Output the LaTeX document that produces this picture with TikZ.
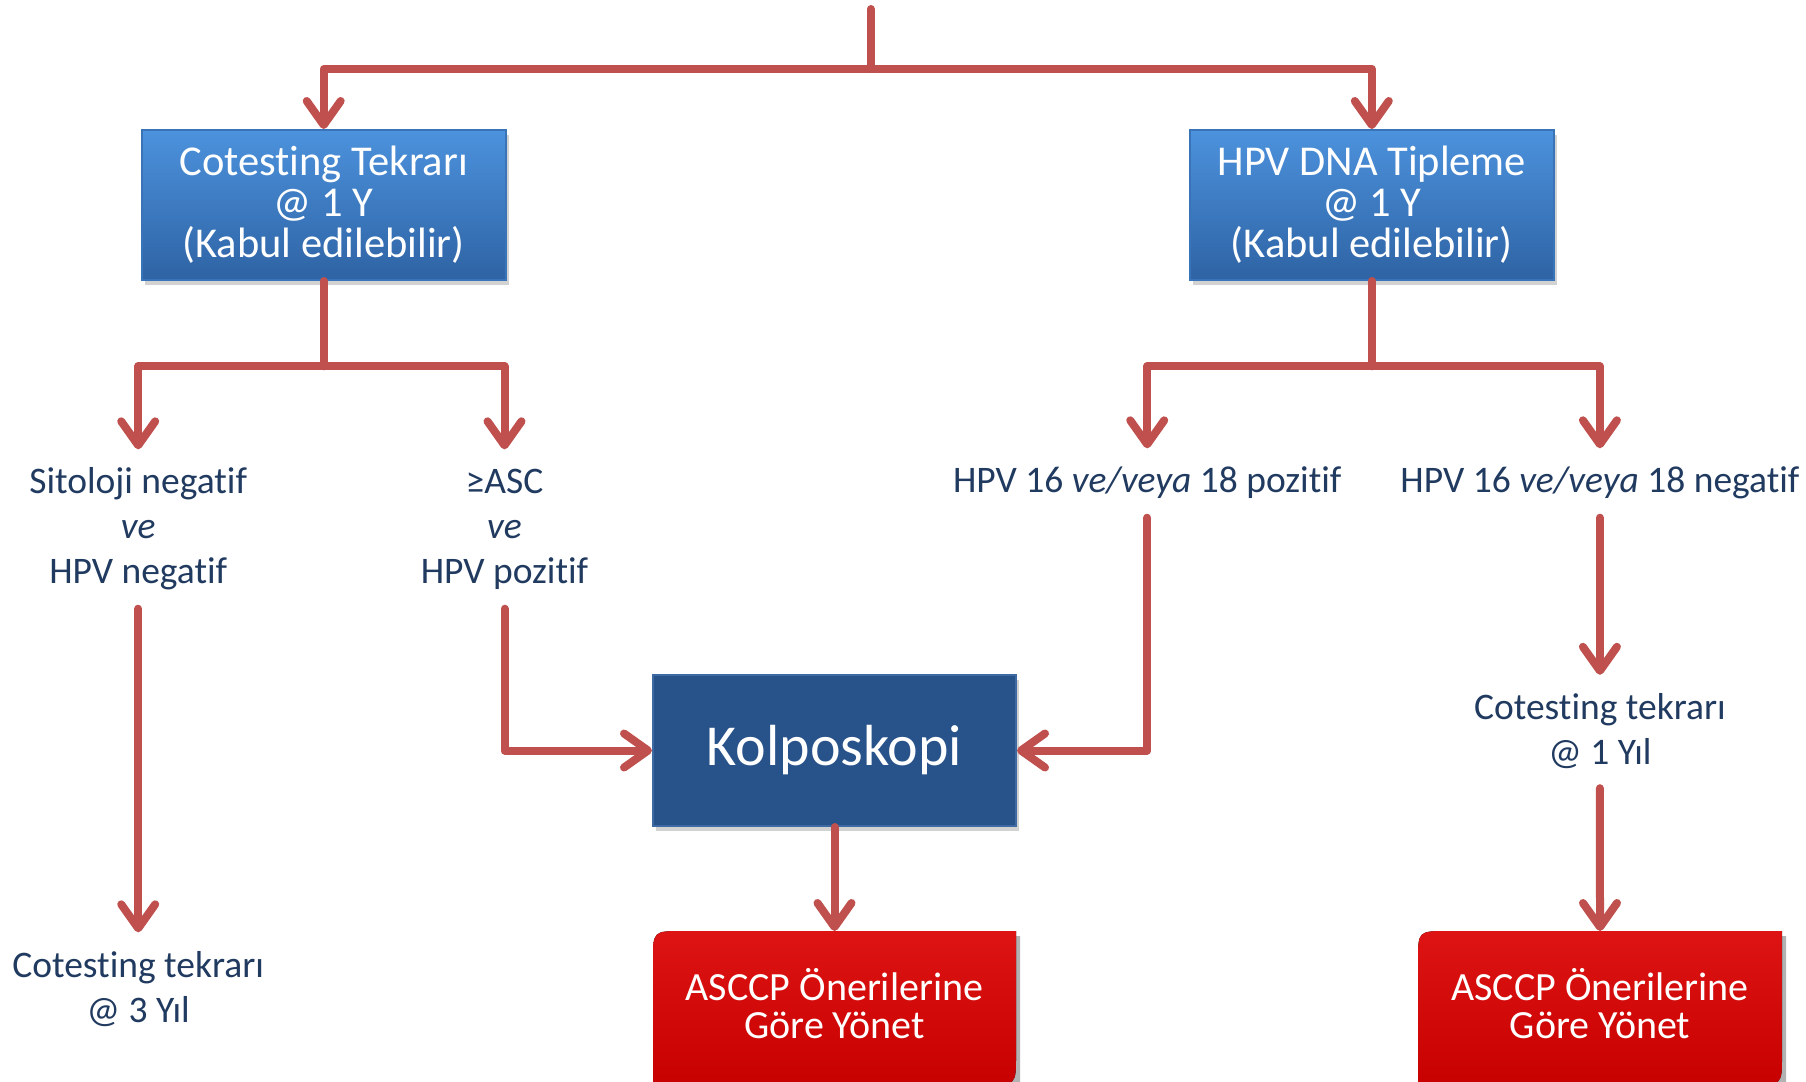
\documentclass[tikz,border=0pt]{standalone}
\usepackage{fontspec}
\setmainfont{Carlito}[Ligatures=NoCommon]
\usetikzlibrary{arrows.meta,shadows,calc}
\definecolor{arrowred}{HTML}{C0504D}
\definecolor{navytext}{HTML}{203A60}
\definecolor{bluetop}{HTML}{4C92DD}
\definecolor{bluebot}{HTML}{2E63A4}
\definecolor{blueedge}{HTML}{3A74B8}
\definecolor{kolpblue}{HTML}{28528A}
\definecolor{kolpedge}{HTML}{3D6AA3}
\definecolor{redtop}{HTML}{DE1414}
\definecolor{redbot}{HTML}{C70000}
\tikzset{
  line/.style={draw=arrowred, line width=8pt, line join=round, line cap=round,
    preaction={draw=black, opacity=0.12, transform canvas={xshift=2pt,yshift=-3pt}}},
  arr/.style={line, -{Straight Barb[length=24pt,width=34pt,line cap=round,line join=round]}},
  bluebox/.style={rectangle, minimum width=364pt, minimum height=150pt, inner sep=0pt,
    top color=bluetop, bottom color=bluebot, draw=blueedge, line width=2pt,
    text=white, align=center, font=\fontsize{42.5}{41}\selectfont,
    drop shadow={shadow xshift=3pt, shadow yshift=-5pt, opacity=0.35}},
  kolpbox/.style={rectangle, minimum width=363pt, minimum height=151pt, inner sep=0pt,
    fill=kolpblue, draw=kolpedge, line width=2pt,
    text=white, align=center, font=\fontsize{58}{64}\selectfont,
    drop shadow={shadow xshift=3pt, shadow yshift=-5pt, opacity=0.35}},
  redlabel/.style={rectangle, minimum width=364pt, minimum height=144pt, inner sep=0pt,
    text=white, align=center, font=\fontsize{40}{38}\selectfont},
  lbl/.style={rectangle, inner sep=0pt, text=navytext, align=center,
    font=\fontsize{37.5}{45}\selectfont},
}
\begin{document}
\begin{tikzpicture}[x=1pt,y=-1pt]
\clip (0,0) rectangle (1806,1081);
\useasboundingbox (0,0) rectangle (1806,1081);
\fill[white] (0,0) rectangle (1806,1081);

% red box backgrounds
\fill[black, opacity=0.3] (657,1090) -- (657,966) .. controls (657,936) .. (687,936) -- (1020,936)
  -- (1020,1090) -- cycle;
\fill[black, opacity=0.3] (1422,1090) -- (1422,966) .. controls (1422,936) .. (1452,936) -- (1786,936)
  -- (1786,1090) -- cycle;
\fill[top color=redtop, bottom color=redbot, draw=none]
  (653,1085) -- (653,961) .. controls (653,931) .. (683,931) -- (1016,931)
  -- (1016,1055) .. controls (1016,1085) .. (986,1085) -- cycle;
\fill[top color=redtop, bottom color=redbot, draw=none]
  (1418,1085) -- (1418,961) .. controls (1418,931) .. (1448,931) -- (1782,931)
  -- (1782,1055) .. controls (1782,1085) .. (1752,1085) -- cycle;

% boxes
\node[bluebox] (b1) at (323.7,205) {Cotesting Tekrarı\\@ 1 Y\\(Kabul edilebilir)};
\node[bluebox] (b2) at (1371.8,205) {HPV DNA Tipleme\\@ 1 Y\\(Kabul edilebilir)};
\node[kolpbox] (kolp) at (834.5,750.5) {\raisebox{-4pt}{Kolposkopi}};
\node[redlabel, anchor=north] (r1) at (834.5,931) {ASCCP Önerilerine\\Göre Yönet};
\node[redlabel, anchor=north] (r2) at (1600,931) {ASCCP Önerilerine\\Göre Yönet};

% labels
\node[lbl, minimum height=159pt] (l1) at (138.2,529) {Sitoloji negatif\\\textit{ve}\\HPV negatif};
\node[lbl, minimum height=159pt] (l2) at (504.5,529) {≥ASC\\\textit{ve}\\HPV pozitif};
\node[lbl, minimum height=69pt] (l3) at (1147.2,483) {HPV 16 \textit{ve/veya} 18 pozitif};
\node[lbl, minimum height=69pt] (l4) at (1599.9,483) {HPV 16 \textit{ve/veya} 18 negatif};
\node[lbl, minimum height=113pt] (l5) at (138.2,989) {Cotesting tekrarı\\@ 3 Yıl};
\node[lbl, minimum height=113pt] (l6) at (1599.9,731.5) {Cotesting tekrarı\\@ 1 Yıl};

% junctions
\coordinate (top) at (870.8,9);
\coordinate (j0) at (870.8,69);
\coordinate (j1) at (323.7,366.3);
\coordinate (j2) at (1371.8,366.3);

% connectors
\draw[line] (top) -- (j0);
\draw[arr] (j0) -| (b1.north);
\draw[arr] (j0) -| (b2.north);
\draw[line] (b1.south) -- (j1);
\draw[arr] (j1) -| (l1.north);
\draw[arr] (j1) -| (l2.north);
\draw[line] (b2.south) -- (j2);
\draw[arr] (j2) -| (l3.north);
\draw[arr] (j2) -| (l4.north);
\draw[arr] (l1.south) -- (l5.north);
\draw[arr] (l2.south) |- (kolp.west);
\draw[arr] (l3.south) |- (kolp.east);
\draw[arr] (l4.south) -- (l6.north);
\draw[arr] (l6.south) -- (r2.north);
\draw[arr] (kolp.south) -- (r1.north);
\end{tikzpicture}
\end{document}
